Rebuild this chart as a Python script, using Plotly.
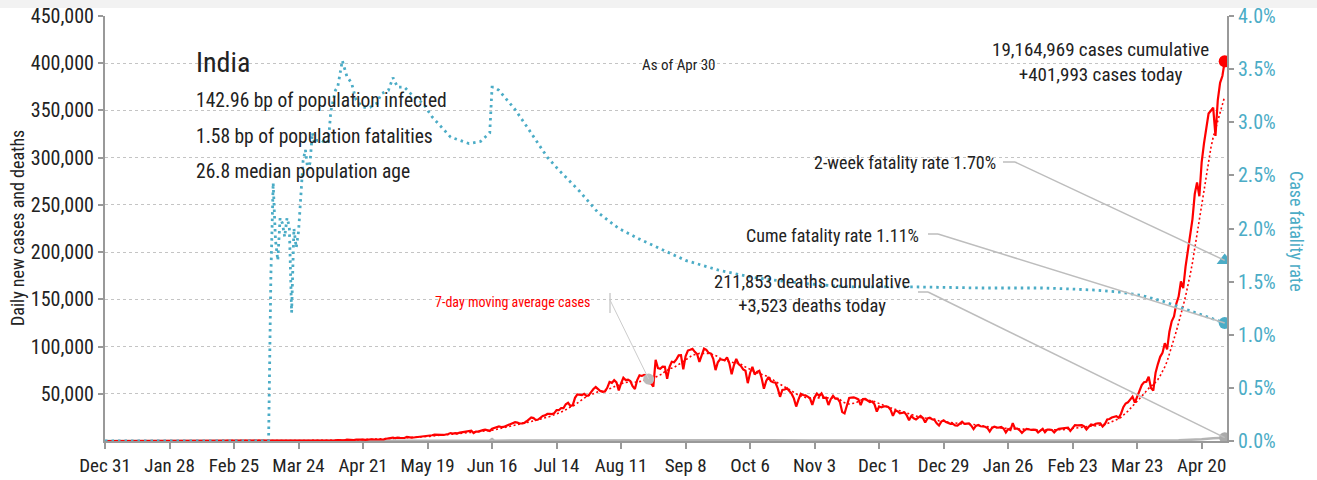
import pandas as pd
import plotly.graph_objects as go

# ---------------- data ----------------
START = "2019-12-31"

cases_2019_12 = [0]
cases_2020_01 = [0, 0, 0, 0, 0, 0, 0, 0, 0, 0, 0, 0, 0, 0, 0, 0, 0, 0, 0, 0,
                 0, 0, 0, 0, 0, 0, 0, 0, 0, 1, 0]
cases_2020_02 = [0, 1, 1, 0, 0, 0, 0, 0, 0, 0, 0, 0, 0, 0, 0, 0, 0, 0, 0, 0,
                 0, 0, 0, 0, 0, 0, 0, 0, 0]
cases_2020_03 = [0, 2, 1, 22, 2, 1, 3, 5, 4, 13, 6, 11, 9, 20, 11, 6, 23, 14, 38, 50,
                 86, 66, 103, 37, 121, 70, 160, 100, 87, 92, 146]
cases_2020_04 = [601, 545, 478, 500, 525, 704, 508, 485, 591, 896,
                 768, 918, 796, 1463, 1100, 1108, 1007, 1355, 1580, 1239,
                 1537, 1292, 1667, 1408, 1835, 1607, 1561, 1873, 1738, 1801]
cases_2020_05 = [2396, 2564, 2952, 3656, 2971, 3602, 3344, 3339, 3175, 4311,
                 3592, 3562, 3726, 3967, 3970, 4987, 5242, 4970, 5611, 5609,
                 6088, 6654, 6767, 6977, 6535, 6387, 6566, 7466, 8380, 7964, 8392]
cases_2020_06 = [8171, 8909, 9304, 9851, 9887, 9971, 10864, 8442, 9985, 9996,
                 10956, 11458, 11929, 11502, 10667, 12881, 13586, 14516, 15413, 14821,
                 14933, 15968, 16922, 17296, 18552, 19906, 19459, 18522, 18653, 19148]
cases_2020_07 = [20903, 22771, 24850, 24248, 22252, 22752, 24879, 26506, 27114, 28637,
                 28701, 28498, 29429, 32695, 32607, 34956, 34884, 38902, 40425, 37148,
                 37724, 45720, 49310, 48916, 48661, 49931, 47704, 48513, 52123, 55079, 57118]
cases_2020_08 = [54735, 52972, 52050, 52509, 56282, 62538, 61537, 64399, 62064, 53601,
                 60963, 66999, 64553, 65002, 63490, 57981, 55079, 64531, 69652, 68898,
                 69878, 69239, 61408, 60975, 57500, 86000, 77266, 76472, 78761, 78512, 66000]
cases_2020_09 = [78357, 83883, 83341, 86432, 90632, 90802, 75809, 89706, 95735, 96551,
                 97570, 94372, 92071, 83809, 90123, 97894, 96424, 93337, 92605, 86961,
                 75083, 83347, 86508, 86052, 85362, 88600, 82170, 70589, 80472, 86821]
cases_2020_10 = [81484, 79476, 75829, 74442, 61267, 72049, 78524, 70496, 73272, 74383,
                 66732, 55342, 63509, 67708, 63371, 62212, 61871, 55722, 46790, 54044,
                 54482, 55839, 53370, 50129, 45148, 36469, 43893, 49881, 48648, 48268, 46963]
cases_2020_11 = [45231, 38310, 46254, 50210, 47638, 50356, 45674, 45903, 38073, 44281,
                 47905, 44879, 44878, 41100, 30548, 29164, 38617, 45576, 45882, 46232,
                 45209, 44059, 37975, 44376, 44489, 43082, 41322, 41810, 38772, 31118]
cases_2020_12 = [36604, 35551, 36595, 36652, 36011, 32981, 26567, 32080, 31521, 29398,
                 30006, 30254, 27071, 22065, 26382, 24010, 22890, 25153, 26624, 24337,
                 19556, 23950, 24712, 23067, 22272, 18732, 16432, 20549, 21822, 20035, 19079]
cases_2021_01 = [18177, 18088, 16504, 16375, 18088, 20346, 18139, 18222, 18645, 16311,
                 12584, 15968, 16946, 15590, 15158, 15144, 13788, 10064, 13823, 15223,
                 14545, 14256, 14849, 13203, 9102, 12689, 11666, 18855, 13083, 13052, 11427]
cases_2021_02 = [8635, 11039, 12899, 12408, 11713, 12059, 11831, 9110, 11067, 12923,
                 9309, 12143, 12194, 11649, 9121, 11610, 12881, 13193, 13993, 14264,
                 14199, 10584, 13742, 16738, 16577, 16488, 16752, 15510]
cases_2021_03 = [12286, 14989, 17407, 16838, 18327, 18711, 18599, 15388, 17921, 22854,
                 23285, 24882, 25320, 26291, 24492, 28903, 35871, 39726, 40953, 43846,
                 46951, 40715, 47262, 53476, 59118, 62258, 62714, 68020, 56211, 53480, 72330]
cases_2021_04 = [81466, 89129, 93249, 103558, 96982, 115736, 126789, 131968, 145384, 152879,
                 168912, 161736, 184372, 200739, 217353, 234692, 261500, 273810, 259170, 295041,
                 314835, 332730, 346786, 349691, 352991, 323144, 360960, 379257, 386452, 401993]

# daily deaths, sampled
death_dates = ["2019-12-31", "2020-03-15", "2020-04-01", "2020-04-15", "2020-05-01",
               "2020-05-15", "2020-06-01", "2020-06-15", "2020-06-16", "2020-06-17",
               "2020-07-01", "2020-07-15", "2020-08-01", "2020-08-15", "2020-09-01",
               "2020-09-15", "2020-10-01", "2020-10-15", "2020-11-01", "2020-11-15",
               "2020-12-01", "2020-12-15", "2021-01-01", "2021-01-15", "2021-02-01",
               "2021-02-15", "2021-03-01", "2021-03-15", "2021-04-01", "2021-04-10",
               "2021-04-15", "2021-04-20", "2021-04-25", "2021-04-30"]
death_values = [0, 0, 10, 35, 75, 100, 230, 380, 2003, 340,
                500, 600, 760, 1000, 1050, 1130, 1100, 700, 500, 450,
                480, 350, 250, 190, 110, 100, 100, 130, 460, 800,
                1040, 1760, 2800, 3523]

# cumulative case fatality rate (%)
cfr_dates = ["2019-12-31", "2020-03-11", "2020-03-12", "2020-03-13", "2020-03-14",
             "2020-03-15", "2020-03-16", "2020-03-17", "2020-03-18", "2020-03-19",
             "2020-03-20", "2020-03-21", "2020-03-22", "2020-03-23", "2020-03-24",
             "2020-03-25", "2020-03-26", "2020-03-27", "2020-03-28", "2020-03-29",
             "2020-03-30", "2020-03-31", "2020-04-01", "2020-04-03", "2020-04-05",
             "2020-04-06", "2020-04-07", "2020-04-09", "2020-04-10", "2020-04-12",
             "2020-04-14", "2020-04-16", "2020-04-18", "2020-04-21", "2020-04-24",
             "2020-04-27", "2020-04-29", "2020-05-02", "2020-05-04", "2020-05-06",
             "2020-05-09", "2020-05-13", "2020-05-17", "2020-05-21", "2020-05-26",
             "2020-05-29", "2020-06-02", "2020-06-06", "2020-06-11", "2020-06-14",
             "2020-06-15", "2020-06-16", "2020-06-17", "2020-06-19", "2020-06-26",
             "2020-07-02", "2020-07-10", "2020-07-15", "2020-07-24", "2020-08-01",
             "2020-08-10", "2020-08-19", "2020-08-29", "2020-09-08", "2020-09-22",
             "2020-10-07", "2020-10-22", "2020-11-05", "2020-11-19", "2020-12-17",
             "2021-01-15", "2021-02-10", "2021-02-23", "2021-03-05", "2021-03-16",
             "2021-03-25", "2021-04-04", "2021-04-12", "2021-04-19", "2021-04-25",
             "2021-04-30"]
cfr_values = [0.0, 0.0, 1.56, 2.43, 1.89,
              1.70, 2.10, 2.05, 1.92, 2.10,
              2.02, 1.21, 2.00, 1.82, 1.97,
              2.33, 2.64, 2.74, 2.55, 2.62,
              2.90, 2.80, 2.83, 2.83, 2.80,
              2.83, 3.10, 3.30, 3.33, 3.58,
              3.43, 3.37, 3.21, 3.14, 3.14,
              3.18, 3.27, 3.30, 3.42, 3.33,
              3.33, 3.24, 3.18, 3.05, 2.93,
              2.86, 2.83, 2.80, 2.82, 2.88,
              2.90, 3.33, 3.33, 3.30, 3.12,
              2.93, 2.67, 2.55, 2.35, 2.15,
              2.00, 1.90, 1.80, 1.70, 1.61,
              1.54, 1.50, 1.47, 1.45, 1.45,
              1.44, 1.44, 1.43, 1.42, 1.40,
              1.37, 1.31, 1.25, 1.19, 1.15,
              1.11]

cases_cumulative = 19164969
deaths_cumulative = 211853
two_week_cfr = 1.70
pop_infected_bp = 142.96
pop_fatal_bp = 1.58
median_age = 26.8
ma_callout_date = "2020-08-23"

x_ticks = ["Dec 31", "Jan 28", "Feb 25", "Mar 24", "Apr 21", "May 19", "Jun 16",
           "Jul 14", "Aug 11", "Sep 8", "Oct 6", "Nov 3", "Dec 1", "Dec 29",
           "Jan 26", "Feb 23", "Mar 23", "Apr 20"]

# ---------------- series ----------------
daily_cases = (cases_2019_12 + cases_2020_01 + cases_2020_02 + cases_2020_03 + cases_2020_04
               + cases_2020_05 + cases_2020_06 + cases_2020_07 + cases_2020_08 + cases_2020_09
               + cases_2020_10 + cases_2020_11 + cases_2020_12 + cases_2021_01 + cases_2021_02
               + cases_2021_03 + cases_2021_04)
dates = pd.date_range(START, periods=len(daily_cases), freq="D")
cases = pd.Series(daily_cases, index=dates)
ma7 = cases.rolling(7, min_periods=1).mean()
last_day = dates[-1]
tick_dates = pd.date_range(START, periods=len(x_ticks), freq="28D")

RED = "#ff0000"
BLUE = "#4bacc6"
GREY = "#b4b4b4"
LEADER = "#bdbdbd"
TEXT = "#222222"
FONT = "Liberation Sans Narrow, Arial Narrow, Roboto Condensed, Roboto, sans-serif"

# plot-area geometry in pixels (for placing labels)
W, H = 1317, 480
L, R, T, B = 105, 1227, 16, 441
Y_MAX = 450000
CFR_MAX = 4.0


def xp(px):
    return (px - L) / (R - L)


def yp(py):
    return (B - py) / (B - T)


x_end = last_day + pd.Timedelta(days=1)
span_days = (x_end - pd.Timestamp(START)).days


def px_date(px):
    return pd.Timestamp(START) + pd.Timedelta(days=(px - L) / (R - L) * span_days)


def py_val(py):
    return (B - py) / (B - T) * Y_MAX


fig = go.Figure()

fig.add_trace(go.Scatter(x=pd.to_datetime(cfr_dates), y=cfr_values, yaxis="y2", mode="lines",
                         line=dict(color=BLUE, width=2.8, dash="2.5px,4px"),
                         hoverinfo="skip", showlegend=False))
fig.add_trace(go.Scatter(x=pd.to_datetime(death_dates), y=death_values, mode="lines",
                         line=dict(color=GREY, width=2.5), hoverinfo="skip", showlegend=False))
fig.add_trace(go.Scatter(x=dates, y=ma7.values, mode="lines",
                         line=dict(color=RED, width=1.6, dash="2px,2.5px"),
                         hoverinfo="skip", showlegend=False))
fig.add_trace(go.Scatter(x=dates, y=cases.values, mode="lines",
                         line=dict(color=RED, width=2.2), hoverinfo="skip", showlegend=False))

# end-point markers
fig.add_trace(go.Scatter(x=[last_day], y=[daily_cases[-1]], mode="markers",
                         marker=dict(color=RED, size=12), showlegend=False, hoverinfo="skip"))
fig.add_trace(go.Scatter(x=[last_day], y=[death_values[-1]], mode="markers",
                         marker=dict(color="#aaaaaa", size=11), showlegend=False, hoverinfo="skip"))
fig.add_trace(go.Scatter(x=[last_day], y=[two_week_cfr], yaxis="y2", mode="markers",
                         marker=dict(color=BLUE, size=14, symbol="triangle-up"),
                         showlegend=False, hoverinfo="skip"))
fig.add_trace(go.Scatter(x=[last_day], y=[cfr_values[-1]], yaxis="y2", mode="markers",
                         marker=dict(color=BLUE, size=12), showlegend=False, hoverinfo="skip"))
ma_pt = pd.Timestamp(ma_callout_date)
fig.add_trace(go.Scatter(x=[ma_pt], y=[ma7[ma_pt]], mode="markers",
                         marker=dict(color="#bbbbbb", size=11), showlegend=False, hoverinfo="skip"))

shapes = []
# light band along the top edge
shapes.append(dict(type="rect", xref="paper", yref="paper", x0=xp(0), x1=xp(W),
                   y0=yp(8), y1=yp(0), fillcolor="#f2f2f2", line=dict(width=0), layer="below"))


def leader(px0, px1, py0, end_x, end_y):
    shapes.append(dict(type="line", xref="paper", yref="paper", x0=xp(px0), x1=xp(px1),
                       y0=yp(py0), y1=yp(py0), line=dict(color=LEADER, width=1.5)))
    shapes.append(dict(type="line", xref="x", yref="y", x0=px_date(px1), y0=py_val(py0),
                       x1=end_x, y1=end_y, line=dict(color=LEADER, width=1.5)))


leader(1003, 1015, 162, last_day, two_week_cfr * Y_MAX / CFR_MAX)
leader(928, 938, 234, last_day, cfr_values[-1] * Y_MAX / CFR_MAX)
leader(918, 928, 292, last_day, death_values[-1])

# 7-day average callout
shapes.append(dict(type="line", xref="paper", yref="paper", x0=xp(610), x1=xp(610),
                   y0=yp(293), y1=yp(313), line=dict(color="#cccccc", width=1.5)))
shapes.append(dict(type="line", xref="x", yref="y", x0=px_date(610), y0=py_val(300),
                   x1=ma_pt, y1=ma7[ma_pt], line=dict(color="#cccccc", width=1)))

anns = []


def label(text, px, py, size, xanchor="left", color=TEXT, align="left"):
    anns.append(dict(text=text, x=xp(px), y=yp(py), xref="paper", yref="paper",
                     xanchor=xanchor, yanchor="middle", showarrow=False, align=align,
                     font=dict(family=FONT, size=size, color=color)))


label("India", 194, 62, 28)
label(f"{pop_infected_bp:.2f} bp of population infected", 194, 101, 19.5)
label(f"{pop_fatal_bp:.2f} bp of population fatalities", 194, 136, 19.5)
label(f"{median_age:.1f} median population age", 194, 171, 19.5)
label("As of Apr 30", 679, 65, 15, xanchor="center")
label(f"{cases_cumulative:,} cases cumulative<br>+{daily_cases[-1]:,} cases today",
      1100, 62, 19, xanchor="center", align="center")
label(f"2-week fatality rate {two_week_cfr:.2f}%", 998, 163, 18, xanchor="right")
label(f"Cume fatality rate {cfr_values[-1]:.2f}%", 921, 236, 18, xanchor="right")
label(f"{deaths_cumulative:,} deaths cumulative<br>+{death_values[-1]:,} deaths today",
      812, 294, 18.5, xanchor="center", align="center")
label("7-day moving average cases", 593, 302, 14, xanchor="right", color=RED)

anns.append(dict(text="Daily new cases and deaths", x=xp(18), y=yp(228), xref="paper",
                 yref="paper", textangle=-90, showarrow=False, xanchor="center", yanchor="middle",
                 font=dict(family=FONT, size=18, color=TEXT)))
anns.append(dict(text="Case fatality rate", x=xp(1297), y=yp(231), xref="paper",
                 yref="paper", textangle=90, showarrow=False, xanchor="center", yanchor="middle",
                 font=dict(family=FONT, size=18, color=BLUE)))

y_ticks = list(range(50000, Y_MAX + 1, 50000))
cfr_ticks = [i * 0.5 for i in range(9)]

fig.update_layout(
    width=W, height=H,
    margin=dict(l=L, r=W - R, t=T, b=H - B),
    paper_bgcolor="white", plot_bgcolor="white",
    font=dict(family=FONT, color=TEXT),
    xaxis=dict(type="date", range=[pd.Timestamp(START), x_end],
               tickvals=tick_dates, ticktext=x_ticks, automargin=False,
               ticks="outside", ticklen=6, tickcolor="#999999", tickwidth=1.5,
               showline=True, linecolor="#999999", linewidth=2, showgrid=False,
               zeroline=False, tickfont=dict(family=FONT, size=19, color=TEXT)),
    yaxis=dict(range=[0, Y_MAX], tickvals=y_ticks, ticktext=[f"{v:,}" for v in y_ticks],
               ticks="outside", ticklen=5, tickcolor="#999999", tickwidth=1.5, automargin=False,
               showline=True, linecolor="#999999", linewidth=2,
               showgrid=True, gridcolor="#c4c4c4", griddash="dot", gridwidth=1,
               zeroline=False, tickfont=dict(family=FONT, size=20, color=TEXT)),
    yaxis2=dict(range=[0, CFR_MAX], overlaying="y", side="right", tickvals=cfr_ticks,
                ticktext=[f"{v:.1f}%" for v in cfr_ticks], automargin=False,
                ticks="outside", ticklen=5, tickcolor="#999999", tickwidth=1.5,
                showline=True, linecolor="#999999", linewidth=2, showgrid=False,
                zeroline=False, tickfont=dict(family=FONT, size=20, color=BLUE)),
    shapes=shapes,
    annotations=anns,
)

fig.write_html("out.html")
